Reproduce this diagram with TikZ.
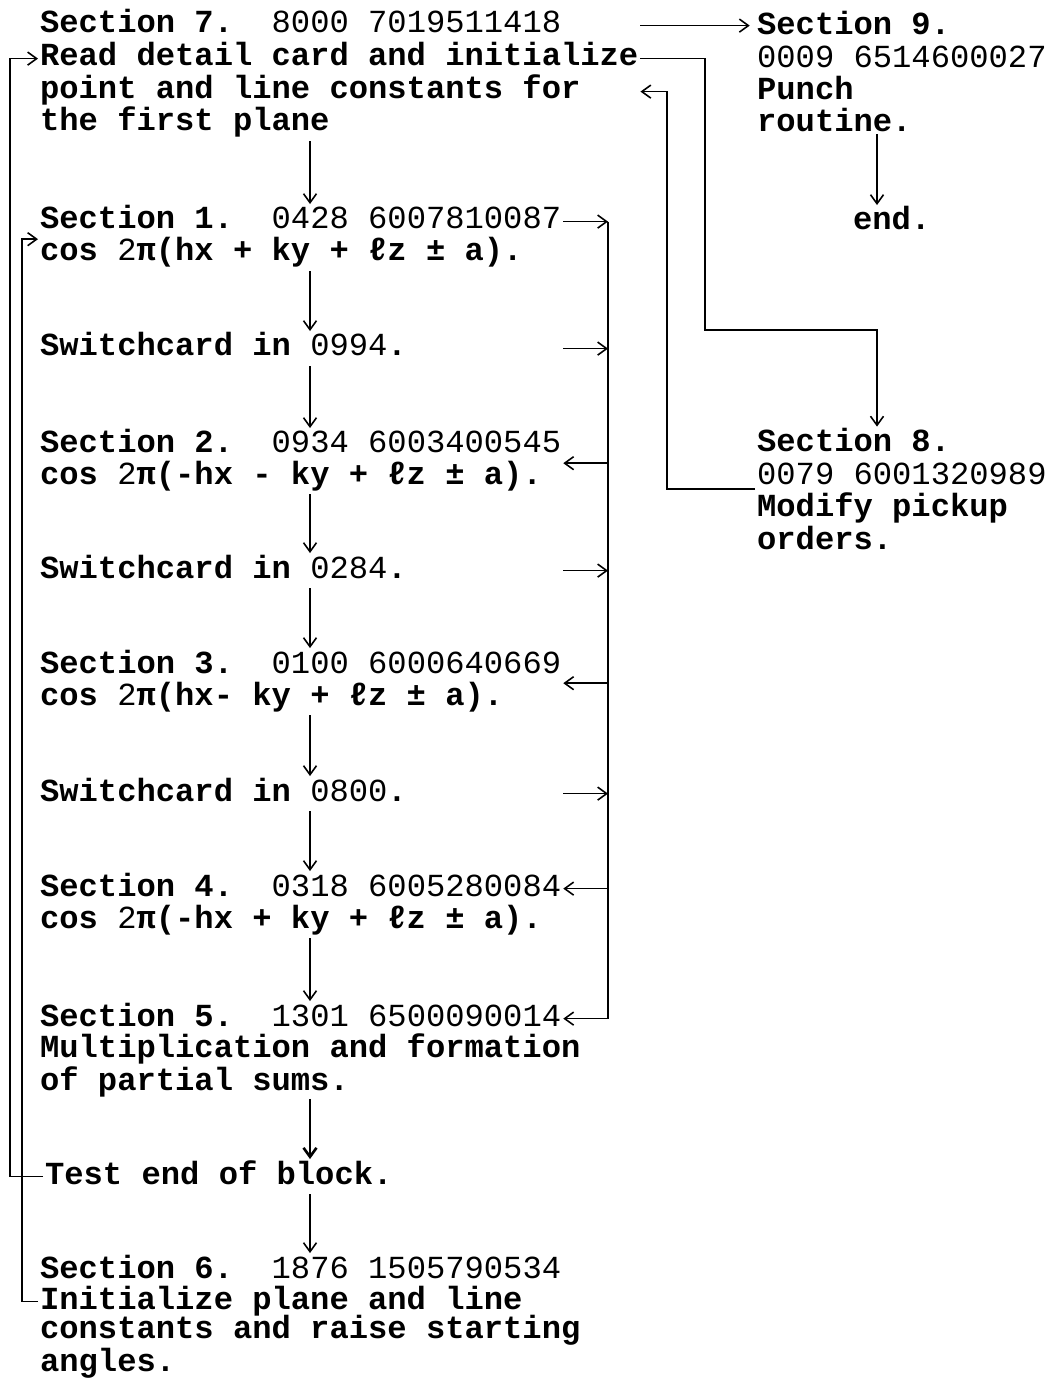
\documentclass[tikz,border=0pt]{standalone}
\usepackage{fontspec}
\setmonofont{Liberation Mono}
\usetikzlibrary{arrows.meta, positioning}
\tikzset{
  txt/.style={inner sep=1pt, anchor=base west,
              font=\ttfamily\bfseries\fontsize{18.3pt}{18.4pt}\selectfont},
  ln/.style={txt, text height=13pt, text depth=4.6pt},
  blk/.style={txt, align=left}, % placed at the baseline of its last line
  flow/.style={-{Straight Barb[length=1.8mm, width=2.6mm]}, line width=0.9pt},
}
\newcommand{\dg}[1]{{\mdseries #1}}

\begin{document}
\begin{tikzpicture}
  \useasboundingbox (0,0) rectangle (20.96,-27.58);
  % columns for the connectors
  \coordinate (col)   at (6.2,0);
  \coordinate (rb)    at (12.16,0);
  \coordinate (back)  at (13.34,0);
  \coordinate (jog)   at (14.1,-6.6);
  \coordinate (drop)  at (17.54,0);
  \coordinate (outer) at (0.2,0);
  \coordinate (inner) at (0.44,0);

  % main column
  \node[ln] (s7)   at (0.76,-0.66)  {Section 7.~~\dg{8000 7019511418}};
  \node[ln] (s7r)  at (0.76,-1.32)  {Read detail card and initialize};
  \node[ln] (s7p)  at (0.76,-1.98)  {point and line constants for};
  \node[ln] (s7c)  at (0.76,-2.62)  {the first plane};
  \node[ln] (s1)   at (0.76,-4.58)  {Section 1.~~\dg{0428 6007810087}};
  \node[ln] (s1b)  at (0.76,-5.22)  {cos \dg{2}π(hx + ky + ℓz ± a).};
  \node[ln] (sw1)  at (0.76,-7.12)  {Switchcard in \dg{0994}.};
  \node[ln] (s2)   at (0.76,-9.06)  {Section 2.~~\dg{0934 6003400545}};
  \node[ln] (s2b)  at (0.76,-9.68)  {cos \dg{2}π(-hx - ky + ℓz ± a).};
  \node[ln] (sw2)  at (0.76,-11.56) {Switchcard in \dg{0284}.};
  \node[ln] (s3)   at (0.76,-13.46) {Section 3.~~\dg{0100 6000640669}};
  \node[ln] (s3b)  at (0.76,-14.10) {cos \dg{2}π(hx- ky + ℓz ± a).};
  \node[ln] (sw3)  at (0.76,-16.02) {Switchcard in \dg{0800}.};
  \node[ln] (s4)   at (0.76,-17.92) {Section 4.~~\dg{0318 6005280084}};
  \node[ln] (s4b)  at (0.76,-18.56) {cos \dg{2}π(-hx + ky + ℓz ± a).};
  \node[ln] (s5)   at (0.76,-20.52) {Section 5.~~\dg{1301 6500090014}};
  \node[blk] (s5b) at (0.76,-21.80) {Multiplication and formation\\of partial sums.};
  \node[ln] (test) at (0.86,-23.68) {Test end of block.};
  \node[ln] (s6)   at (0.76,-25.56) {Section 6.~~\dg{1876 1505790534}};
  \node[ln] (s6b)  at (0.76,-26.18) {Initialize plane and line};
  \node[blk] (s6c) at (0.76,-27.42) {constants and raise starting\\angles.};

  % right column
  \node[blk] (s9)  at (15.10,-2.64) {Section 9.\\\dg{0009 6514600027}\\Punch\\routine.};
  \node[ln]  (fin) at (17.02,-4.60) {end.};
  \node[blk] (s8)  at (15.10,-10.98) {Section 8.\\\dg{0079 6001320989}\\Modify pickup\\orders.};

  % down the main column
  \foreach \a/\b in {s7c/s1, s1b/sw1, sw1/s2, s2b/sw2, sw2/s3, s3b/sw3, sw3/s4, s4b/s5, test/s6}
    \draw[flow] (\a.south -| col) -- (\b.north -| col);
  \draw[flow, line width=1.5pt] (s5b.south -| col) -- (test.north -| col);

  % switchcard bracket
  \draw[flow] (s1.east) -- (s1.east -| rb);
  \draw[flow] (s1.east -| rb) |- (s5.east);
  \foreach \n in {sw1, sw2, sw3}
    \draw[flow] (\n.east -| s1.east) -- (\n.east -| rb);
  \foreach \n in {s2, s3}
    \draw[flow] (\n.south east -| rb) -- (\n.south east);
  \draw[flow] (s4.east -| rb) -- (s4.east);

  % loops on the left
  \draw[flow] (test.west) -| (outer |- s7r.west) -- (s7r.west);
  \draw[flow] (s6b.west) -| (inner |- s1.south west) -- (s1.south west);

  % sections 7, 8 and 9
  \draw[flow, shorten >=3pt] (s7.east -| s7r.east) -- (s7.east -| s9.west);
  \draw[flow] (s7r.east) -| (jog) -| (drop |- s8.north);
  \draw[flow] (s8.west) -| (back |- s7p.east) -- (s7p.east -| s7r.east);
  \draw[flow] (s9.south -| drop) -- (fin.north -| drop);
\end{tikzpicture}
\end{document}
